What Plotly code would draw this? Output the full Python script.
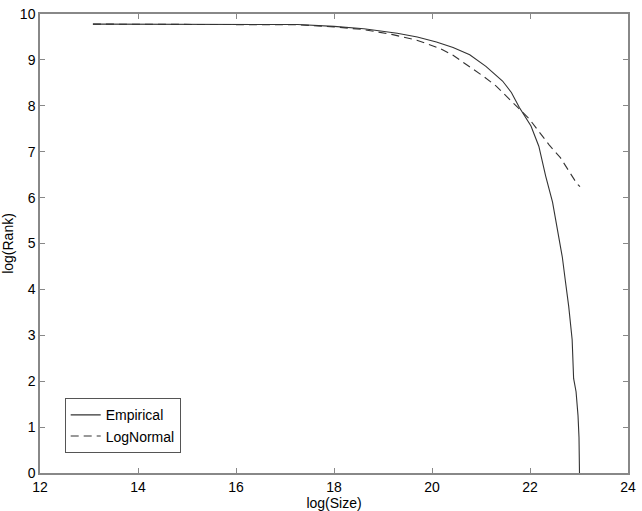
import plotly.graph_objects as go

x_emp = [13.08, 15.0, 16.5, 17.26, 18.0, 18.61, 19.29, 19.7, 20.09, 20.43, 20.77, 21.1, 21.44, 21.62, 21.78,
         21.92, 22.02, 22.18, 22.32, 22.46, 22.56, 22.66, 22.72, 22.79, 22.86, 22.89, 22.94, 22.98, 23.00, 23.01]
y_emp = [9.78, 9.78, 9.775, 9.77, 9.73, 9.68, 9.58, 9.50, 9.39, 9.27, 9.11, 8.86, 8.54, 8.29, 7.97,
         7.72, 7.56, 7.12, 6.47, 5.90, 5.34, 4.70, 4.20, 3.63, 2.91, 2.06, 1.77, 1.25, 0.78, 0.0]

x_ln = [13.08, 15.0, 16.5, 17.26, 18.0, 18.61, 19.2, 19.69, 20.16, 20.43, 20.70, 21.04, 21.31, 21.54,
        21.78, 21.98, 22.39, 22.62, 22.96, 23.02]
y_ln = [9.78, 9.78, 9.775, 9.765, 9.72, 9.66, 9.55, 9.43, 9.25, 9.10, 8.90, 8.65, 8.43, 8.18,
        7.93, 7.72, 7.15, 6.87, 6.30, 6.24]

x_ticks = [12, 14, 16, 18, 20, 22, 24]
y_ticks = [0, 1, 2, 3, 4, 5, 6, 7, 8, 9, 10]

fig = go.Figure()
fig.add_trace(go.Scatter(x=x_emp, y=y_emp, mode="lines", name="Empirical",
                         line=dict(color="#333333", width=1.1)))
fig.add_trace(go.Scatter(x=x_ln, y=y_ln, mode="lines", name="LogNormal",
                         line=dict(color="#333333", width=1.1, dash="8px,5px")))

axis_common = dict(showline=True, linecolor="#888888", linewidth=1.5, mirror="allticks",
                   ticks="inside", ticklen=5, tickcolor="#888888", tickwidth=1,
                   showgrid=False, zeroline=False, ticklabeloverflow="allow",
                   tickfont=dict(family="Liberation Sans, Arial, sans-serif", size=14, color="black"))

fig.update_layout(
    width=642, height=511,
    margin=dict(l=40, r=9, t=6, b=38),
    plot_bgcolor="white", paper_bgcolor="white",
    font=dict(family="Liberation Sans, Arial, sans-serif", size=14, color="black"),
    xaxis=dict(range=[12, 24], tickvals=x_ticks,
               title=dict(text="log(Size)", standoff=0, font=dict(size=14)), **axis_common),
    yaxis=dict(range=[0, 10], tickvals=y_ticks,
               title=dict(text="log(Rank)", standoff=4, font=dict(size=14)), **axis_common),
    legend=dict(x=0.042, y=0.043, xanchor="left", yanchor="bottom",
                bordercolor="#555555", borderwidth=1, bgcolor="white",
                font=dict(size=14), tracegroupgap=0),
    showlegend=True,
)

fig.write_html("out.html", config={"displayModeBar": False},
               post_script="document.body.style.margin='0';document.body.style.padding='0';")
